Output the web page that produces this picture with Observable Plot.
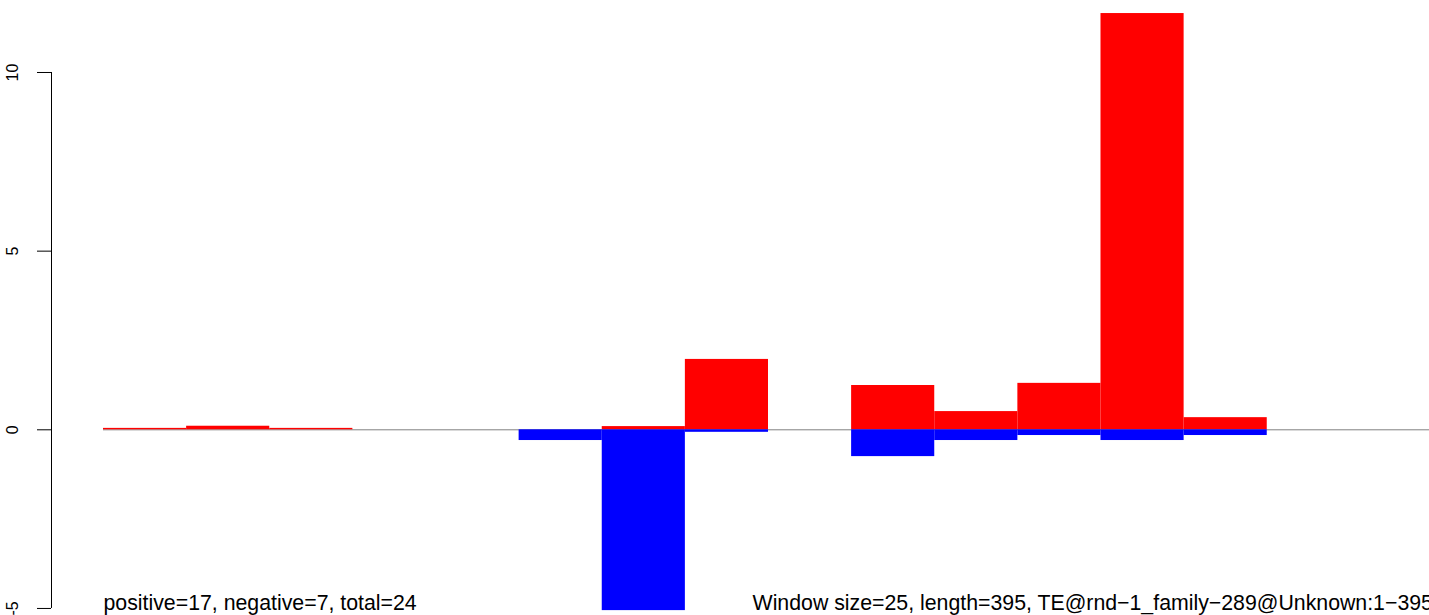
<!DOCTYPE html>
<html>
<head>
<meta charset="utf-8">
<script src="https://cdn.jsdelivr.net/npm/d3@7"></script>
<script src="https://cdn.jsdelivr.net/npm/@observablehq/plot@0.6"></script>
<style>
  html, body { margin: 0; padding: 0; background: #ffffff; }
  #chart svg { display: block; font-family: "Liberation Sans", Arial, Helvetica, sans-serif; }
</style>
</head>
<body>
<div id="chart"></div>
<script>
// Window bins (start positions, window size 25, sequence length 395)
const binStart = [0, 25, 50, 75, 100, 125, 150, 175, 200, 225, 250, 275, 300, 325, 350, 375];
const binEnd   = [25, 50, 75, 100, 125, 150, 175, 200, 225, 250, 275, 300, 325, 350, 375, 400];
// Positive-strand values (red) and negative-strand values (blue)
const positive = [0.04, 0.10, 0.04, 0, 0, 0, 0.09, 1.97, 0, 1.24, 0.51, 1.30, 11.65, 0.34, 0, 0];
const negative = [0, 0, 0, 0, 0, -0.30, -5.06, -0.07, 0, -0.75, -0.30, -0.16, -0.30, -0.16, 0, 0];
// Axis ticks
const yTicks = [-5, 0, 5, 10];
const yTickLabels = ["-5", "0", "5", "10"];
// Annotation texts
const leftNote = "positive=17, negative=7, total=24";
const rightNote = "Window size=25, length=395, TE@rnd\u22121_family\u2212289@Unknown:1\u2212395";

const W = 1429, H = 615;
const xDomain = [-15.64, 398.8];
const yDomain = [-5.197, 12.015];

const posData = binStart.map((s, i) => ({x1: s, x2: binEnd[i], y: positive[i]})).filter(d => d.y !== 0);
const negData = binStart.map((s, i) => ({x1: s, x2: binEnd[i], y: negative[i]})).filter(d => d.y !== 0);
const tickData = yTicks.map((t, i) => ({y: t, label: yTickLabels[i]}));

const noteSize = 21.3;

const chart = Plot.plot({
  width: W,
  height: H,
  marginLeft: 51,
  marginRight: 0,
  marginTop: 0,
  marginBottom: 0,
  style: {background: "#ffffff", fontFamily: "'Liberation Sans', Arial, Helvetica, sans-serif", overflow: "visible"},
  x: {domain: xDomain, axis: null},
  y: {domain: yDomain, axis: null},
  marks: [
    Plot.ruleY([0], {x1: 0, x2: xDomain[1], stroke: "#808080", strokeWidth: 1}),
    Plot.rectY(posData, {x1: "x1", x2: "x2", y1: 0, y2: "y", fill: "#ff0000", inset: 0}),
    Plot.rectY(negData, {x1: "x1", x2: "x2", y1: 0, y2: "y", fill: "#0000ff", inset: 0}),
    Plot.ruleX([xDomain[0]], {y1: yTicks[0], y2: yTicks[yTicks.length - 1], stroke: "#000000", strokeWidth: 1}),
    Plot.axisY(yTicks, {anchor: "left", tickSize: 14, tickFormat: () => "", stroke: "#000000", label: null}),
    Plot.text(tickData, {x: () => xDomain[0], y: "y", text: "label", rotate: -90, dx: -39, fontSize: 16, fill: "#000000", textAnchor: "middle", lineAnchor: "middle"}),
    Plot.text([leftNote], {x: () => 0, y: () => yDomain[0], text: d => d, textAnchor: "start", lineAnchor: "middle", dy: -12.8, fontSize: noteSize, fill: "#000000"}),
    Plot.text([rightNote], {x: () => 195.2, y: () => yDomain[0], text: d => d, textAnchor: "start", lineAnchor: "middle", dy: -12.8, fontSize: noteSize, fill: "#000000"})
  ]
});
document.getElementById("chart").appendChild(chart);
</script>
</body>
</html>
